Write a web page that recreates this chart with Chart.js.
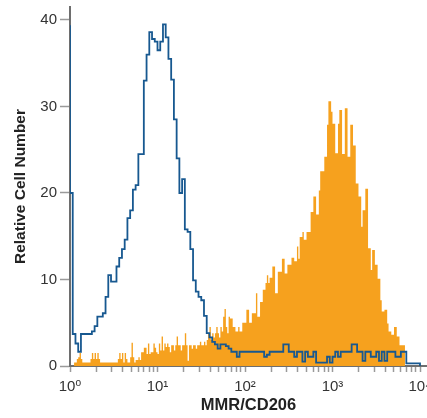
<!DOCTYPE html>
<html>
<head>
<meta charset="utf-8">
<script src="https://cdn.jsdelivr.net/npm/chart.js@4/dist/chart.umd.min.js"></script>
<style>
  html, body { margin: 0; padding: 0; background: #fff; overflow: hidden; }
  canvas { display: block; }
</style>
</head>
<body>
<canvas id="histo" width="427" height="418"></canvas>
<script>
// ── MMR/CD206 flow histogram ──
// Orange = stained cells (256 log channels), blue = isotype control (128 channels, step outline).

const orangeCounts = [
  0, 0, 0, 0.4, 0.4, 0.8, 1.0, 1.5, 0.8, 0.4,
  0.4, 0.4, 0.4, 0.4, 0.4, 0.8, 1.5, 0.8, 1.5, 0.8,
  1.5, 0.8, 0.4, 0.4, 0.4, 0.4, 0.4, 0.4, 0.4, 0.4,
  0.4, 0.4, 0.4, 0.4, 0.4, 0.8, 1.5, 0.8, 1.5, 0.4,
  1.5, 0.8, 0.4, 0.4, 1.0, 2.7, 1.0, 0.4, 0.7, 0.7,
  1.0, 0.7, 1.6, 1.6, 2.1, 2.1, 1.4, 2.6, 1.4, 1.6,
  1.6, 2.6, 2.1, 1.6, 1.4, 2.6, 1.8, 3.4, 1.8, 2.6,
  2.2, 2.6, 2.2, 1.6, 2.4, 2.4, 1.8, 2.4, 3.4, 2.4,
  2.4, 1.8, 2.4, 2.4, 3.8, 2.4, 0.6, 2.4, 2.4, 2.0,
  2.4, 2.4, 2.0, 2.4, 2.4, 2.8, 2.4, 2.4, 2.8, 2.4,
  3.0, 3.8, 4.5, 3.0, 3.8, 3.3, 3.8, 4.5, 3.8, 3.3,
  4.5, 4.0, 5.7, 6.6, 4.5, 3.8, 5.7, 5.5, 5.5, 4.5,
  4.5, 4.0, 4.0, 4.5, 4.0, 4.0, 5.0, 5.0, 5.0, 6.5,
  6.5, 5.0, 5.0, 6.1, 6.1, 6.1, 8.4, 5.7, 5.7, 7.4,
  7.4, 8.8, 8.8, 9.6, 10.5, 9.6, 10.2, 10.2, 11.5, 11.5,
  8.4, 8.4, 10.9, 10.9, 10.9, 12.4, 12.4, 10.7, 10.7, 11.7,
  11.7, 11.7, 12.5, 12.5, 12.1, 12.1, 13.8, 12.4, 14.9, 14.9,
  15.5, 14.6, 14.6, 15.5, 15.5, 15.5, 17.8, 17.8, 19.6, 19.6,
  17.5, 17.5, 20.3, 22.5, 22.5, 22.5, 24.2, 24.2, 27.9, 30.6,
  30.6, 29.4, 28.0, 28.0, 24.6, 24.6, 28.0, 29.6, 29.6, 24.5,
  24.5, 29.8, 29.8, 24.2, 24.2, 27.9, 27.9, 25.5, 25.5, 21.1,
  21.1, 19.6, 19.6, 16.1, 18.0, 18.0, 20.5, 20.5, 13.6, 13.6,
  11.1, 13.4, 13.4, 11.7, 11.7, 10.1, 10.1, 7.6, 6.3, 6.3,
  6.5, 6.5, 4.9, 4.0, 4.0, 3.6, 3.6, 4.5, 4.5, 3.4,
  3.4, 2.4, 2.4, 2.4, 2.4, 0, 0, 0, 0, 0,
  0, 0, 0, 0, 0, 0
];

// first channel of the control is pinned against the axis
const blueFirstChannel = 39.4;
const blueCounts = [
  20, 3.7, 2.6, 1.65, 3.7, 3.7, 3.7, 3.7, 4.0, 4.6,
  5.7, 5.7, 6.1, 8.0, 10.5, 9.75, 9.75, 11.5, 12.5, 13.5,
  14.6, 17.1, 18.0, 20.4, 20.9, 24.5, 24.5, 33.0, 36.0, 38.6,
  37.8, 37.5, 36.5, 37.5, 39.5, 38.0, 35.5, 33.1, 28.5, 24.0,
  20.0, 21.6, 15.8, 15.5, 13.5, 9.9, 8.6, 8.0, 7.6, 5.8,
  3.8, 3.3, 2.8, 2.5, 2.0, 2.5, 2.5, 2.3, 2.0, 1.65,
  1.65, 1.07, 1.65, 1.65, 1.65, 1.65, 1.65, 1.65, 1.65, 1.65,
  1.65, 1.07, 1.3, 1.65, 1.65, 1.65, 1.65, 1.65, 2.5, 2.5,
  1.65, 1.65, 1.07, 1.65, 1.65, 0.5, 1.65, 1.07, 1.07, 1.65,
  0.4, 0.4, 0.4, 0.4, 1.07, 0.4, 1.07, 1.65, 1.07, 1.65,
  1.65, 1.65, 1.65, 2.5, 2.5, 1.65, 1.65, 0.6, 1.65, 1.65,
  1.07, 1.07, 1.65, 0.6, 1.65, 0.6, 1.65, 1.65, 1.65, 1.07,
  1.07, 1.65, 1.65, 0.3, 0.3, 0.3, 0.3, 0.3
];

const xDecades = 4;
const xTickLabels = ['10\u2070', '10\u00B9', '10\u00B2', '10\u00B3', '10\u2074'];
const yTickValues = [0, 10, 20, 30, 40];

const ORANGE = '#F6A11E';
const BLUE = '#175890';
const AXIS = '#6E6E6E';
const TICK = '#9A9A9A';
const FONT = "'Liberation Sans', Arial, 'DejaVu Sans', sans-serif";

// channel index -> left edge of the channel on the log axis
const toSteps = (counts) => {
  const pts = counts.map((v, i) => ({ x: Math.pow(10, xDecades * i / counts.length), y: v }));
  pts.push({ x: Math.pow(10, xDecades), y: 0 });
  return pts;
};

const orangePts = toSteps(orangeCounts);
const bluePts = [{ x: 1, y: blueFirstChannel }].concat(toSteps(blueCounts));

// minor + major tick marks for every decade
const xTicks = [];
for (let d = 0; d < xDecades; d++) {
  for (let m = 1; m < 10; m++) xTicks.push({ value: m * Math.pow(10, d) });
}
xTicks.push({ value: Math.pow(10, xDecades) });

new Chart(document.getElementById('histo'), {
  type: 'line',
  data: {
    datasets: [
      {
        label: 'isotype',
        data: bluePts,
        borderColor: BLUE,
        borderWidth: 1.8,
        stepped: true,
        pointRadius: 0,
        fill: false,
        order: 0
      },
      {
        label: 'MMR/CD206',
        data: orangePts,
        borderWidth: 0,
        borderColor: ORANGE,
        backgroundColor: ORANGE,
        stepped: true,
        pointRadius: 0,
        fill: 'origin',
        order: 1
      }
    ]
  },
  options: {
    responsive: false,
    animation: false,
    devicePixelRatio: 1,
    layout: { padding: { top: 7, left: 0, right: 0, bottom: 0 } },
    plugins: { legend: { display: false }, tooltip: { enabled: false } },
    scales: {
      x: {
        type: 'logarithmic',
        min: 1,
        max: Math.pow(10, 4.08),
        afterBuildTicks: (s) => { s.ticks = xTicks.slice(); },
        afterFit: (s) => { s.height = 52; s.paddingLeft = 0; s.paddingRight = 0; },
        ticks: {
          autoSkip: false,
          maxRotation: 0,
          padding: 6,
          color: '#333',
          font: { size: 15, family: FONT },
          callback: (v) => {
            const e = Math.log10(v);
            return Math.abs(e - Math.round(e)) < 1e-9 ? xTickLabels[Math.round(e)] : '';
          }
        },
        grid: { drawOnChartArea: false, drawTicks: true, tickLength: 6, color: TICK, tickWidth: 1.5 },
        border: { color: AXIS, width: 2 },
        title: {
          display: true,
          text: 'MMR/CD206',
          color: '#222',
          font: { size: 16.5, weight: 'bold', family: FONT },
          padding: { top: 0, bottom: 3 }
        }
      },
      y: {
        min: 0,
        max: 41.5,
        afterBuildTicks: (s) => { s.ticks = yTickValues.map(v => ({ value: v })); },
        afterFit: (s) => { s.width = 70; s.paddingTop = 0; s.paddingBottom = 0; },
        ticks: {
          padding: 3,
          color: '#333',
          font: { size: 15, family: FONT }
        },
        grid: { drawOnChartArea: false, drawTicks: true, tickLength: 10, color: TICK, tickWidth: 1.5 },
        border: { color: AXIS, width: 2 },
        title: {
          display: true,
          text: 'Relative Cell Number',
          color: '#222',
          font: { size: 15.5, weight: 'bold', family: FONT },
          padding: { top: 11, bottom: 0 }
        }
      }
    }
  }
});
</script>
</body>
</html>
